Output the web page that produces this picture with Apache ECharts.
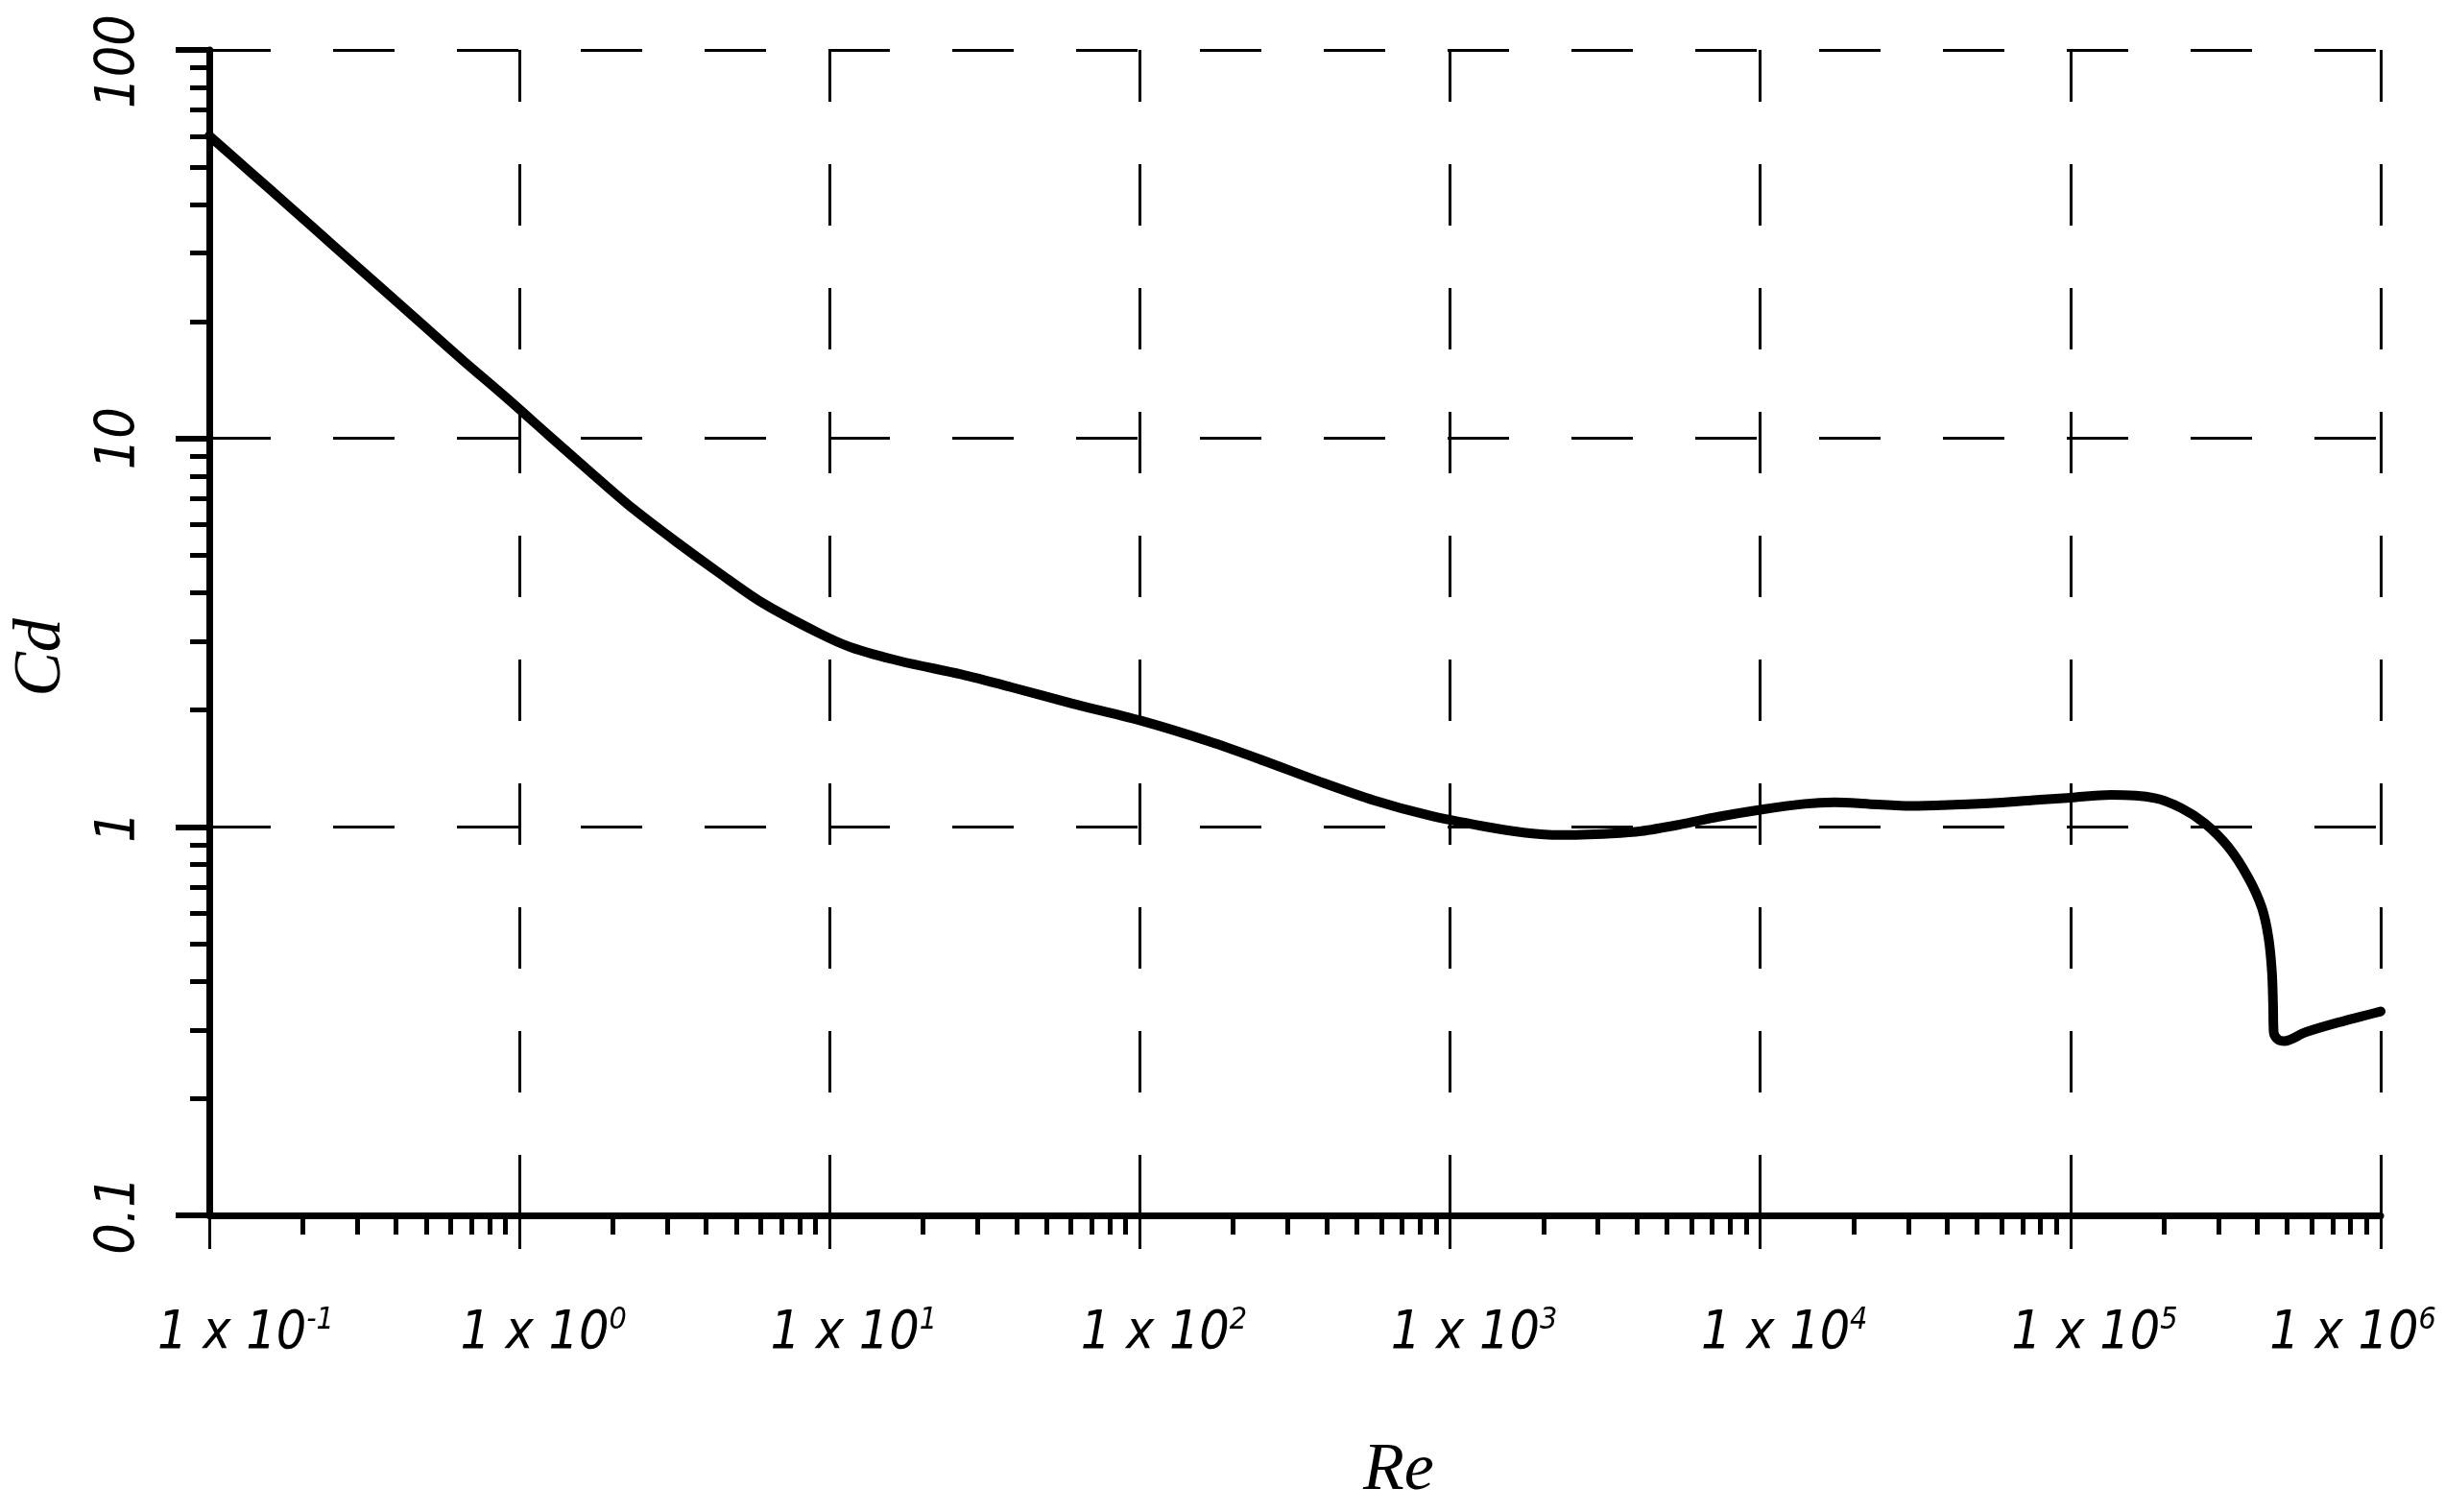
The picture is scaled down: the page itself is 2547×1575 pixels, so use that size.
<!DOCTYPE html>
<html>
<head>
<meta charset="utf-8">
<title>Cd - Re</title>
<script src="https://cdn.jsdelivr.net/npm/echarts@6/dist/echarts.min.js"></script>
<style>
  html, body { margin: 0; padding: 0; background: #fff; }
  #chart { width: 2547px; height: 1575px; }
</style>
</head>
<body>
<div id="chart"></div>
<script>
// Re (x) and Cd (y)
const reValues = [0.1, 0.134, 0.184, 0.253, 0.348, 0.478, 0.656, 0.90, 1.24, 1.70,
  2.33, 3.21, 4.41, 6.05, 9.18, 11.7, 16.9, 26.5, 38.4, 60.1,
  100, 167, 251, 378, 569, 857, 1270, 1750, 2260, 3310,
  4130, 5510, 7330, 10000, 13900, 17300, 22300, 30700, 42200, 58100,
  79800, 100000, 135000, 187000, 228000, 271000, 323000, 374000, 414000, 435000,
  446000, 450000, 452000, 468000, 490000, 572000, 733000, 1000000];
const cdValues = [60.1, 48.9, 39.1, 31.2, 24.9, 19.9, 15.9, 12.8, 10.2, 8.17,
  6.58, 5.41, 4.50, 3.78, 3.16, 2.90, 2.67, 2.47, 2.29, 2.08,
  1.88, 1.66, 1.48, 1.31, 1.17, 1.07, 1.005, 0.966, 0.953, 0.962,
  0.975, 1.014, 1.062, 1.107, 1.146, 1.156, 1.146, 1.132, 1.140, 1.153,
  1.175, 1.189, 1.208, 1.186, 1.117, 1.021, 0.887, 0.741, 0.619, 0.518,
  0.424, 0.347, 0.296, 0.283, 0.281, 0.296, 0.314, 0.335];

// tick labels
const reTicks = [0.1, 1, 10, 100, 1000, 10000, 100000, 1000000];
const reExponents = ['-1', '0', '1', '2', '3', '4', '5', '6'];
const cdTicks = [0.1, 1, 10, 100];
const cdTickLabels = ['0.1', '1', '10', '100'];

// minor ticks 2..9 in every decade
function minorTicks(decades) {
  const out = [];
  for (let i = 0; i < decades.length - 1; i++) {
    for (let m = 2; m <= 9; m++) {
      out.push(parseFloat((m * decades[i]).toPrecision(6)));
    }
  }
  return out;
}
const reMinor = minorTicks(reTicks);
const cdMinor = minorTicks(cdTicks);

function nearestIndex(v, ticks) {
  let best = 0;
  ticks.forEach(function (t, i) {
    if (Math.abs(Math.log10(t) - Math.log10(v)) < Math.abs(Math.log10(ticks[best]) - Math.log10(v))) best = i;
  });
  return best;
}

const labelFont = "'DejaVu Sans Condensed', 'DejaVu Sans', sans-serif";
const titleFont = "'Liberation Serif', 'DejaVu Serif', serif";

const chart = echarts.init(document.getElementById('chart'), null, { renderer: 'canvas' });

const seriesData = reValues.map(function (re, i) { return [re, cdValues[i]]; });

// x label styles: main part + superscript exponent
const mainStyle = { fontFamily: labelFont, fontStyle: 'italic', fontSize: 55, color: '#000', lineHeight: 60, verticalAlign: 'middle' };
const supStyle = { fontFamily: labelFont, fontStyle: 'italic', fontSize: 32, color: '#000', lineHeight: 24, verticalAlign: 'top' };

const option = {
  animation: false,
  backgroundColor: '#ffffff',
  grid: { left: 218, top: 52, width: 2262, height: 1214, containLabel: false, outerBoundsMode: 'none' },
  xAxis: [
    {
      type: 'log',
      logBase: 10,
      min: 0.1,
      max: 1000000,
      splitNumber: 7,
      name: 'Re',
      nameLocation: 'middle',
      nameGap: 232,
      nameTextStyle: { fontFamily: titleFont, fontStyle: 'italic', fontSize: 70, color: '#000', padding: [0, 0, 0, 216] },
      axisLine: { show: true, onZero: false, lineStyle: { color: '#000', width: 7 } },
      axisTick: { show: true, inside: false, length: 35, lineStyle: { color: '#000', width: 3 } },
      axisLabel: {
        show: true,
        margin: 94,
        showMinLabel: true,
        showMaxLabel: true,
        formatter: function (v) {
          const i = nearestIndex(v, reTicks);
          const exp = reExponents[i];
          if (exp === '-1') return '{m|1 x 10}{s|' + exp + '}';
          if (exp === '6') return '{b|1 x 10}{s|' + exp + '}{gap| }';
          return '{a|1 x 10}{s|' + exp + '}';
        },
        rich: {
          a: Object.assign({}, mainStyle, { padding: [0, 0, 0, 50] }),
          m: Object.assign({}, mainStyle, { padding: [0, 0, 0, 76] }),
          b: Object.assign({}, mainStyle),
          s: Object.assign({}, supStyle),
          gap: { fontSize: 10, width: 58, lineHeight: 10 }
        }
      },
      splitLine: { show: true, lineStyle: { color: '#000', width: 3, type: [64, 65], dashOffset: 10 } },
      minorTick: { show: false },
      minorSplitLine: { show: false }
    },
    {
      type: 'log',
      logBase: 10,
      min: 0.1,
      max: 1000000,
      position: 'bottom',
      axisLine: { show: false },
      axisTick: { show: true, inside: false, length: 20, customValues: reMinor, lineStyle: { color: '#000', width: 5 } },
      axisLabel: { show: false },
      splitLine: { show: false }
    }
  ],
  yAxis: [
    {
      type: 'log',
      logBase: 10,
      min: 0.1,
      max: 100,
      splitNumber: 3,
      name: 'Cd',
      nameLocation: 'middle',
      nameGap: 139,
      nameTextStyle: { fontFamily: titleFont, fontStyle: 'italic', fontSize: 70, color: '#000', padding: [0, 52, 0, 0] },
      axisLine: { show: true, onZero: false, lineStyle: { color: '#000', width: 7 } },
      axisTick: { show: true, inside: false, length: 35, lineStyle: { color: '#000', width: 6 } },
      axisLabel: {
        show: true,
        rotate: 90,
        margin: 64,
        showMinLabel: true,
        showMaxLabel: true,
        formatter: function (v) {
          const i = nearestIndex(v, cdTicks);
          const key = i === cdTicks.length - 1 ? 't' : 'y';
          return '{' + key + '|' + cdTickLabels[i] + '}';
        },
        rich: {
          y: { fontFamily: labelFont, fontStyle: 'italic', fontSize: 57, color: '#000' },
          t: { fontFamily: labelFont, fontStyle: 'italic', fontSize: 57, color: '#000', padding: [0, 24, 0, 0] }
        }
      },
      splitLine: { show: true, lineStyle: { color: '#000', width: 3, type: [64, 65], dashOffset: 0 } },
      minorTick: { show: false },
      minorSplitLine: { show: false }
    },
    {
      type: 'log',
      logBase: 10,
      min: 0.1,
      max: 100,
      position: 'left',
      axisLine: { show: false },
      axisTick: { show: true, inside: false, length: 20, customValues: cdMinor, lineStyle: { color: '#000', width: 5 } },
      axisLabel: { show: false },
      splitLine: { show: false }
    }
  ],
  series: [
    {
      type: 'line',
      xAxisIndex: 0,
      yAxisIndex: 0,
      data: seriesData,
      symbol: 'none',
      showSymbol: false,
      smooth: 0.3,
      silent: true,
      lineStyle: { color: '#000', width: 10, cap: 'round', join: 'round' },
      z: 5
    }
  ]
};

chart.setOption(option);
</script>
</body>
</html>
